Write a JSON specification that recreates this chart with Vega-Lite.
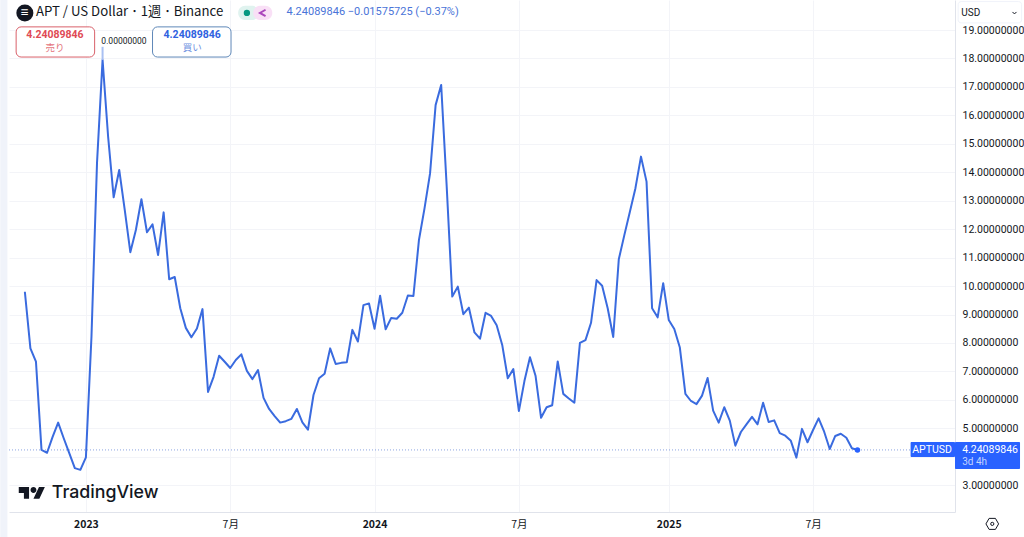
{
  "$schema": "https://vega.github.io/schema/vega-lite/v6.json",
  "width": 946,
  "height": 512,
  "autosize": "none",
  "padding": {"left": 9, "top": 0, "right": 69, "bottom": 25},
  "background": "#ffffff",
  "config": {"view": {"stroke": null}, "font": "Roboto"},
  "datasets": {
    "apt": [
      {"date":"2022-10-17","close":9.80},{"date":"2022-10-24","close":7.81},{"date":"2022-10-31","close":7.34},{"date":"2022-11-07","close":4.24},{"date":"2022-11-14","close":4.14},{"date":"2022-11-21","close":4.70},{"date":"2022-11-28","close":5.20},{"date":"2022-12-05","close":4.65},{"date":"2022-12-12","close":4.13},{"date":"2022-12-19","close":3.60},{"date":"2022-12-26","close":3.54},
      {"date":"2023-01-02","close":3.98},{"date":"2023-01-09","close":8.22},{"date":"2023-01-16","close":14.33},{"date":"2023-01-23","close":17.95},{"date":"2023-01-30","close":15.25},{"date":"2023-02-06","close":13.12},{"date":"2023-02-13","close":14.08},{"date":"2023-02-20","close":12.67},{"date":"2023-02-27","close":11.19},{"date":"2023-03-06","close":11.97},{"date":"2023-03-13","close":13.05},{"date":"2023-03-20","close":11.89},{"date":"2023-03-27","close":12.17},{"date":"2023-04-03","close":11.09},{"date":"2023-04-10","close":12.59},{"date":"2023-04-17","close":10.24},{"date":"2023-04-24","close":10.32},{"date":"2023-05-01","close":9.22},{"date":"2023-05-08","close":8.53},{"date":"2023-05-15","close":8.20},{"date":"2023-05-22","close":8.51},{"date":"2023-05-29","close":9.19},{"date":"2023-06-05","close":6.28},{"date":"2023-06-12","close":6.81},{"date":"2023-06-19","close":7.55},{"date":"2023-06-26","close":7.34},
      {"date":"2023-07-03","close":7.12},{"date":"2023-07-10","close":7.40},{"date":"2023-07-17","close":7.60},{"date":"2023-07-24","close":7.02},{"date":"2023-07-31","close":6.73},{"date":"2023-08-07","close":7.05},{"date":"2023-08-14","close":6.07},{"date":"2023-08-21","close":5.68},{"date":"2023-08-28","close":5.43},{"date":"2023-09-04","close":5.20},{"date":"2023-09-11","close":5.25},{"date":"2023-09-18","close":5.33},{"date":"2023-09-25","close":5.68},{"date":"2023-10-02","close":5.21},{"date":"2023-10-09","close":4.95},{"date":"2023-10-16","close":6.17},{"date":"2023-10-23","close":6.76},{"date":"2023-10-30","close":6.92},{"date":"2023-11-06","close":7.81},{"date":"2023-11-13","close":7.26},{"date":"2023-11-20","close":7.30},{"date":"2023-11-27","close":7.32},{"date":"2023-12-04","close":8.46},{"date":"2023-12-11","close":8.05},{"date":"2023-12-18","close":9.33},{"date":"2023-12-25","close":9.39},
      {"date":"2024-01-01","close":8.50},{"date":"2024-01-08","close":9.66},{"date":"2024-01-15","close":8.48},{"date":"2024-01-22","close":8.88},{"date":"2024-01-29","close":8.85},{"date":"2024-02-05","close":9.06},{"date":"2024-02-12","close":9.67},{"date":"2024-02-19","close":9.65},{"date":"2024-02-26","close":11.62},{"date":"2024-03-04","close":12.73},{"date":"2024-03-11","close":13.96},{"date":"2024-03-18","close":16.36},{"date":"2024-03-25","close":17.07},{"date":"2024-04-01","close":13.49},{"date":"2024-04-08","close":9.63},{"date":"2024-04-15","close":9.98},{"date":"2024-04-22","close":9.01},{"date":"2024-04-29","close":9.24},{"date":"2024-05-06","close":8.37},{"date":"2024-05-13","close":8.15},{"date":"2024-05-20","close":9.06},{"date":"2024-05-27","close":8.95},{"date":"2024-06-03","close":8.62},{"date":"2024-06-10","close":7.93},{"date":"2024-06-17","close":6.76},{"date":"2024-06-24","close":7.08},
      {"date":"2024-07-01","close":5.61},{"date":"2024-07-08","close":6.66},{"date":"2024-07-15","close":7.50},{"date":"2024-07-22","close":6.85},{"date":"2024-07-29","close":5.37},{"date":"2024-08-05","close":5.74},{"date":"2024-08-12","close":5.81},{"date":"2024-08-19","close":7.35},{"date":"2024-08-26","close":6.21},{"date":"2024-09-02","close":6.05},{"date":"2024-09-09","close":5.90},{"date":"2024-09-16","close":8.00},{"date":"2024-09-23","close":8.10},{"date":"2024-09-30","close":8.71},{"date":"2024-10-07","close":10.21},{"date":"2024-10-14","close":10.01},{"date":"2024-10-21","close":9.22},{"date":"2024-10-28","close":8.21},{"date":"2024-11-04","close":10.94},{"date":"2024-11-11","close":11.79},{"date":"2024-11-18","close":12.61},{"date":"2024-11-25","close":13.44},{"date":"2024-12-02","close":14.55},{"date":"2024-12-09","close":13.67},{"date":"2024-12-16","close":9.22},{"date":"2024-12-23","close":8.90},{"date":"2024-12-30","close":10.10},
      {"date":"2025-01-06","close":8.81},{"date":"2025-01-13","close":8.49},{"date":"2025-01-20","close":7.84},{"date":"2025-01-27","close":6.21},{"date":"2025-02-03","close":5.96},{"date":"2025-02-10","close":5.85},{"date":"2025-02-17","close":6.15},{"date":"2025-02-24","close":6.77},{"date":"2025-03-03","close":5.62},{"date":"2025-03-10","close":5.20},{"date":"2025-03-17","close":5.74},{"date":"2025-03-24","close":5.27},{"date":"2025-03-31","close":4.39},{"date":"2025-04-07","close":4.87},{"date":"2025-04-14","close":5.14},{"date":"2025-04-21","close":5.40},{"date":"2025-04-28","close":5.14},{"date":"2025-05-05","close":5.90},{"date":"2025-05-12","close":5.22},{"date":"2025-05-19","close":5.28},{"date":"2025-05-26","close":4.83},{"date":"2025-06-02","close":4.74},{"date":"2025-06-09","close":4.56},{"date":"2025-06-16","close":3.97},{"date":"2025-06-23","close":4.98},{"date":"2025-06-30","close":4.51},{"date":"2025-07-07","close":4.94},{"date":"2025-07-14","close":5.35},{"date":"2025-07-21","close":4.88},{"date":"2025-07-28","close":4.27},{"date":"2025-08-04","close":4.73},{"date":"2025-08-11","close":4.81},{"date":"2025-08-18","close":4.67},{"date":"2025-08-25","close":4.30},{"date":"2025-09-01","close":4.24}
    ]
  },
  "data": {"values": [{}]},
  "layer": [
    {
      "data": {"name": "apt"},
      "mark": {"type": "line", "color": "#3a6bdf", "strokeWidth": 2, "strokeJoin": "round"},
      "encoding": {
        "x": {
          "field": "date", "type": "temporal", "title": null,
          "scale": {"type": "utc", "domain": [{"utc":true,"year":2022,"month":9,"date":27}, {"utc":true,"year":2026,"month":1,"date":2}]},
          "axis": {
            "values": [{"utc":true,"year":2023,"month":1,"date":2}, {"utc":true,"year":2023,"month":7,"date":3}, {"utc":true,"year":2024,"month":1,"date":1}, {"utc":true,"year":2024,"month":7,"date":1}, {"utc":true,"year":2025,"month":1,"date":6}, {"utc":true,"year":2025,"month":7,"date":7}],
            "labelExpr": "utcmonth(datum.value) == 0 ? utcyear(datum.value) + '' : '7月'",
            "labelFontWeight": {"condition": {"test": "utcmonth(datum.value) == 0", "value": "bold"}, "value": "normal"},
            "labelFontSize": 10.5, "labelColor": "#131722", "labelPadding": 7,
            "labelOverlap": false, "labelFont": "Noto Sans CJK JP",
            "ticks": false, "domainColor": "#e0e3eb",
            "grid": true, "gridColor": "#f3f4f8"
          }
        },
        "y": {
          "field": "close", "type": "quantitative", "title": null,
          "scale": {"domain": [2.058, 20.055], "nice": false, "zero": false},
          "axis": {
            "orient": "right",
            "values": [3,4,5,6,7,8,9,10,11,12,13,14,15,16,17,18,19],
            "tickCount": 20,
            "labelExpr": "datum.value == 4 ? '' : format(datum.value, '.8f')",
            "labelFontSize": 10.5, "labelColor": "#131722",
            "labelPadding": 7, "labelOverlap": false,
            "ticks": false, "domainColor": "#e0e3eb",
            "grid": true, "gridColor": "#f3f4f8"
          }
        }
      }
    },
    {
      "mark": {"type": "rule", "color": "#5b7fd6", "strokeDash": [1, 2], "opacity": 0.7},
      "encoding": {"y": {"datum": 4.24}}
    },
    {
      "mark": {"type": "rule", "color": "#a9c0f2", "strokeWidth": 2},
      "encoding": {
        "x": {"datum": {"utc":true,"year":2023,"month":1,"date":23}, "type": "temporal"},
        "y": {"datum": 17.95}, "y2": {"datum": 18.41}
      }
    },
    {
      "mark": {"type": "point", "filled": true, "color": "#2962ff", "size": 30, "opacity": 1},
      "encoding": {
        "x": {"datum": {"utc":true,"year":2025,"month":9,"date":1}, "type": "temporal"},
        "y": {"datum": 4.24}
      }
    },
    {
      "mark": {"type": "rect", "color": "#f0f3fa", "clip": false},
      "encoding": {
        "x": {"datum": {"utc":true,"year":2022,"month":9,"date":16}, "type": "temporal"}, "x2": {"datum": {"utc":true,"year":2022,"month":9,"date":25}},
        "y": {"datum": 20.1}, "y2": {"datum": 1.1}
      }
    },
    {
      "mark": {"type": "rect", "fill": "#ffffff", "stroke": "#d9606a", "cornerRadius": 5, "strokeWidth": 1},
      "encoding": {
        "x": {"datum": {"utc":true,"year":2022,"month":10,"date":6}, "type": "temporal"}, "x2": {"datum": {"utc":true,"year":2023,"month":1,"date":13}},
        "y": {"datum": 19.11}, "y2": {"datum": 18.05}
      }
    },
    {
      "mark": {"type": "rect", "fill": "#ffffff", "stroke": "#5f88b8", "cornerRadius": 5, "strokeWidth": 1},
      "encoding": {
        "x": {"datum": {"utc":true,"year":2023,"month":3,"date":27}, "type": "temporal"}, "x2": {"datum": {"utc":true,"year":2023,"month":7,"date":4}},
        "y": {"datum": 19.11}, "y2": {"datum": 18.05}
      }
    },
    {
      "mark": {"type": "text", "color": "#e04a55", "fontWeight": "bold", "fontSize": 10.5},
      "encoding": {
        "x": {"datum": {"utc":true,"year":2022,"month":11,"date":24}, "type": "temporal"}, "y": {"datum": 18.81},
        "text": {"value": "4.24089846"}
      }
    },
    {
      "mark": {"type": "text", "color": "#e4757d", "fontSize": 9.5, "font": "Noto Sans CJK JP"},
      "encoding": {
        "x": {"datum": {"utc":true,"year":2022,"month":11,"date":24}, "type": "temporal"}, "y": {"datum": 18.38},
        "text": {"value": "売り"}
      }
    },
    {
      "mark": {"type": "text", "color": "#2f62e0", "fontWeight": "bold", "fontSize": 10.5},
      "encoding": {
        "x": {"datum": {"utc":true,"year":2023,"month":5,"date":16}, "type": "temporal"}, "y": {"datum": 18.81},
        "text": {"value": "4.24089846"}
      }
    },
    {
      "mark": {"type": "text", "color": "#6d8fe0", "fontSize": 9.5, "font": "Noto Sans CJK JP"},
      "encoding": {
        "x": {"datum": {"utc":true,"year":2023,"month":5,"date":16}, "type": "temporal"}, "y": {"datum": 18.38},
        "text": {"value": "買い"}
      }
    },
    {
      "mark": {"type": "text", "color": "#131722", "fontSize": 8.5},
      "encoding": {
        "x": {"datum": {"utc":true,"year":2023,"month":2,"date":19}, "type": "temporal"}, "y": {"datum": 18.61},
        "text": {"value": "0.00000000"}
      }
    },
    {
      "mark": {"type": "point", "shape": "circle", "filled": true, "color": "#131722", "size": 290, "opacity": 1},
      "encoding": {
        "x": {"datum": {"utc":true,"year":2022,"month":10,"date":17}, "type": "temporal"}, "y": {"datum": 19.6}
      }
    },
    {
      "mark": {"type": "text", "color": "#ffffff", "fontSize": 14, "fontWeight": "bold"},
      "encoding": {
        "x": {"datum": {"utc":true,"year":2022,"month":10,"date":17}, "type": "temporal"}, "y": {"datum": 19.6},
        "text": {"value": "≡"}
      }
    },
    {
      "mark": {"type": "text", "align": "left", "color": "#131722", "fontSize": 13.2, "font": "Noto Sans CJK JP"},
      "encoding": {
        "x": {"datum": {"utc":true,"year":2022,"month":10,"date":31}, "type": "temporal"}, "y": {"datum": 19.62},
        "text": {"value": "APT / US Dollar ･ 1週 ･ Binance"}
      }
    },
    {
      "mark": {"type": "rect", "color": "#e0f3ef", "cornerRadius": 7},
      "encoding": {
        "x": {"datum": {"utc":true,"year":2023,"month":7,"date":13}, "type": "temporal"}, "x2": {"datum": {"utc":true,"year":2023,"month":8,"date":8}},
        "y": {"datum": 19.85}, "y2": {"datum": 19.35}
      }
    },
    {
      "mark": {"type": "rect", "color": "#f9e0f6", "cornerRadius": 7},
      "encoding": {
        "x": {"datum": {"utc":true,"year":2023,"month":8,"date":1}, "type": "temporal"}, "x2": {"datum": {"utc":true,"year":2023,"month":8,"date":25}},
        "y": {"datum": 19.85}, "y2": {"datum": 19.35}
      }
    },
    {
      "mark": {"type": "point", "shape": "circle", "filled": true, "color": "#089981", "size": 40, "opacity": 1},
      "encoding": {
        "x": {"datum": {"utc":true,"year":2023,"month":7,"date":24}, "type": "temporal"}, "y": {"datum": 19.6}
      }
    },
    {
      "mark": {"type": "point", "shape": "M.7 -.8L-.7 0L.7 .8", "filled": false, "color": "#ab47bc", "strokeWidth": 2, "size": 64, "opacity": 1},
      "encoding": {
        "x": {"datum": {"utc":true,"year":2023,"month":8,"date":13}, "type": "temporal"}, "y": {"datum": 19.6}
      }
    },
    {
      "mark": {"type": "text", "align": "left", "color": "#4a74d8", "fontSize": 11},
      "encoding": {
        "x": {"datum": {"utc":true,"year":2023,"month":9,"date":12}, "type": "temporal"}, "y": {"datum": 19.62},
        "text": {"value": "4.24089846  −0.01575725 (−0.37%)"}
      }
    },
    {
      "mark": {"type": "point", "shape": "M-.222 .444H-.611V0H-1V-.444H-.222ZM.556 .444H.111L.528 -.444H.972ZM-.111 -.222a.222 .222 0 1 0 .444 0a.222 .222 0 1 0 -.444 0Z", "filled": true, "color": "#131722", "size": 700, "opacity": 1, "strokeWidth": 0},
      "encoding": {
        "x": {"datum": {"utc":true,"year":2022,"month":10,"date":26}, "type": "temporal"}, "y": {"datum": 2.73}
      }
    },
    {
      "mark": {"type": "text", "align": "left", "color": "#131722", "fontSize": 17.8, "fontWeight": 500, "font": "Inter"},
      "encoding": {
        "x": {"datum": {"utc":true,"year":2022,"month":11,"date":20}, "type": "temporal"}, "y": {"datum": 2.73},
        "text": {"value": "TradingView"}
      }
    },
    {
      "mark": {"type": "rect", "color": "#2962ff", "cornerRadius": 1},
      "encoding": {
        "x": {"datum": {"utc":true,"year":2026,"month":1,"date":2}, "type": "temporal"}, "x2": {"datum": {"utc":true,"year":2026,"month":3,"date":25}},
        "y": {"datum": 4.52}, "y2": {"datum": 3.57}
      }
    },
    {
      "mark": {"type": "rect", "color": "#2962ff", "cornerRadius": 1},
      "encoding": {
        "x": {"datum": {"utc":true,"year":2025,"month":11,"date":7}, "type": "temporal"}, "x2": {"datum": {"utc":true,"year":2026,"month":1,"date":2}},
        "y": {"datum": 4.52}, "y2": {"datum": 3.99}
      }
    },
    {
      "mark": {"type": "text", "color": "#ffffff", "fontSize": 10.5},
      "encoding": {
        "x": {"datum": {"utc":true,"year":2025,"month":12,"date":4}, "type": "temporal"}, "y": {"datum": 4.25},
        "text": {"value": "APTUSD"}
      }
    },
    {
      "mark": {"type": "text", "align": "left", "color": "#ffffff", "fontSize": 10.5},
      "encoding": {
        "x": {"datum": {"utc":true,"year":2026,"month":1,"date":11}, "type": "temporal"}, "y": {"datum": 4.25},
        "text": {"value": "4.24089846"}
      }
    },
    {
      "mark": {"type": "text", "align": "left", "color": "#c4d4ff", "fontSize": 10},
      "encoding": {
        "x": {"datum": {"utc":true,"year":2026,"month":1,"date":11}, "type": "temporal"}, "y": {"datum": 3.82},
        "text": {"value": "3d 4h"}
      }
    },
    {
      "mark": {"type": "rect", "fill": "#ffffff", "stroke": "#f0f3fa", "cornerRadius": 3},
      "encoding": {
        "x": {"datum": {"utc":true,"year":2026,"month":1,"date":6}, "type": "temporal"}, "x2": {"datum": {"utc":true,"year":2026,"month":3,"date":27}},
        "y": {"datum": 20.0}, "y2": {"datum": 19.25}
      }
    },
    {
      "mark": {"type": "text", "align": "left", "color": "#131722", "fontSize": 10},
      "encoding": {
        "x": {"datum": {"utc":true,"year":2026,"month":1,"date":10}, "type": "temporal"}, "y": {"datum": 19.6},
        "text": {"value": "USD"}
      }
    },
    {
      "mark": {"type": "point", "shape": "M-1 -.5L0 .5L1 -.5", "filled": false, "color": "#131722", "size": 16, "opacity": 1, "strokeWidth": 1},
      "encoding": {
        "x": {"datum": {"utc":true,"year":2026,"month":3,"date":18}, "type": "temporal"}, "y": {"datum": 19.6}
      }
    },
    {
      "mark": {"type": "point", "shape": "M-1 0L-.5 -.87L.5 -.87L1 0L.5 .87L-.5 .87Z", "filled": false, "color": "#131722", "size": 160, "opacity": 1, "strokeWidth": 1},
      "encoding": {
        "x": {"datum": {"utc":true,"year":2026,"month":2,"date":18}, "type": "temporal"}, "y": {"datum": 1.64}
      }
    },
    {
      "mark": {"type": "point", "shape": "circle", "filled": false, "color": "#131722", "size": 10, "opacity": 1, "strokeWidth": 1},
      "encoding": {
        "x": {"datum": {"utc":true,"year":2026,"month":2,"date":18}, "type": "temporal"}, "y": {"datum": 1.64}
      }
    }
  ]
}
